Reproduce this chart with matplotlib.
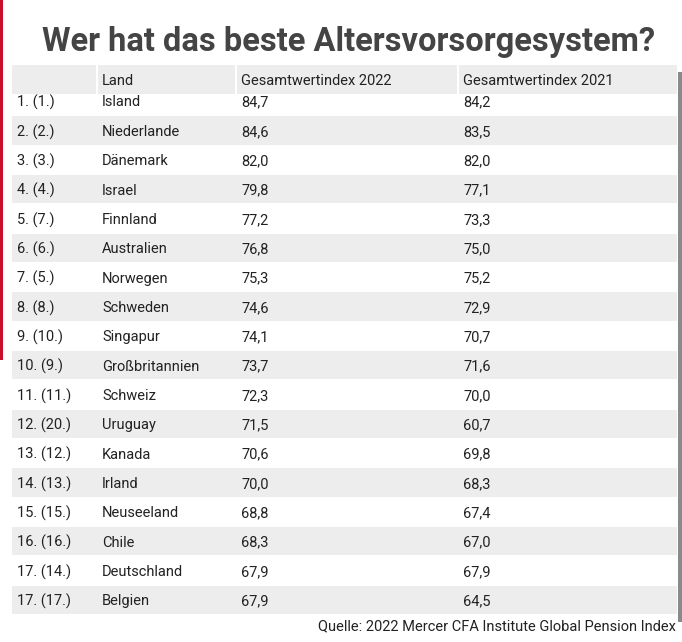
import matplotlib
matplotlib.use("Agg")
import matplotlib.pyplot as plt
from matplotlib.patches import Rectangle

ranks = ["1. (1.)","2. (2.)","3. (3.)","4. (4.)","5. (7.)","6. (6.)","7. (5.)","8. (8.)","9. (10.)",
         "10. (9.)","11. (11.)","12. (20.)","13. (12.)","14. (13.)","15. (15.)","16. (16.)","17. (14.)","17. (17.)"]
countries = ["Island","Niederlande","Dänemark","Israel","Finnland","Australien","Norwegen","Schweden","Singapur",
             "Großbritannien","Schweiz","Uruguay","Kanada","Irland","Neuseeland","Chile","Deutschland","Belgien"]
idx2022 = [84.7,84.6,82.0,79.8,77.2,76.8,75.3,74.6,74.1,73.7,72.3,71.5,70.6,70.0,68.8,68.3,67.9,67.9]
idx2021 = [84.2,83.5,82.0,77.1,73.3,75.0,75.2,72.9,70.7,71.6,70.0,60.7,69.8,68.3,67.4,67.0,67.9,64.5]
headers = ["", "Land", "Gesamtwertindex 2022", "Gesamtwertindex 2021"]

fmt = lambda v: f"{v:.1f}".replace(".", ",")

fig = plt.figure(figsize=(6.82, 6.42), dpi=100)
ax = fig.add_axes([0, 0, 1, 1])
ax.set_xlim(0, 682); ax.set_ylim(642, 0); ax.axis("off")
font = "Roboto"
txt = "#222222"

ax.add_patch(Rectangle((0, 0), 3, 360, color="#c8102e", lw=0))
ax.add_patch(Rectangle((678, 72), 4, 550, color="#8a8a8a", lw=0))

ax.text(349, 42, "Wer hat das beste Altersvorsorgesystem?", ha="center", va="center",
        fontsize=23.5, fontweight="bold", color="#444444", family=font)

x0, x1 = 12, 677
colx = [17, 102, 241, 463]
seps = [97, 236, 458]
pitch = 29.35
dy = 1.5
for i in range(len(ranks)):
    yc = 101 + i * pitch
    if i % 2 == 1:
        ax.add_patch(Rectangle((x0, yc - pitch/2 + 0.5), x1 - x0, pitch - 1, color="#ededed", lw=0))
    vals = [ranks[i], countries[i], fmt(idx2022[i]), fmt(idx2021[i])]
    for x, v in zip(colx, vals):
        ax.text(x, yc + dy, v, ha="left", va="center", fontsize=10.5, color=txt, family=font)

ax.add_patch(Rectangle((x0, 65), x1 - x0, 29, color="#ededed", lw=0))
for s in seps:
    ax.plot([s, s], [65, 94], color="white", lw=1.5)
for x, h in zip(colx, headers):
    ax.text(x, 79.5 + dy, h, ha="left", va="center", fontsize=10.5, color=txt, family=font)

ax.text(676, 625 + dy, "Quelle: 2022 Mercer CFA Institute Global Pension Index", ha="right", va="center",
        fontsize=10.5, color=txt, family=font)

fig.savefig("out.png", dpi=100)
